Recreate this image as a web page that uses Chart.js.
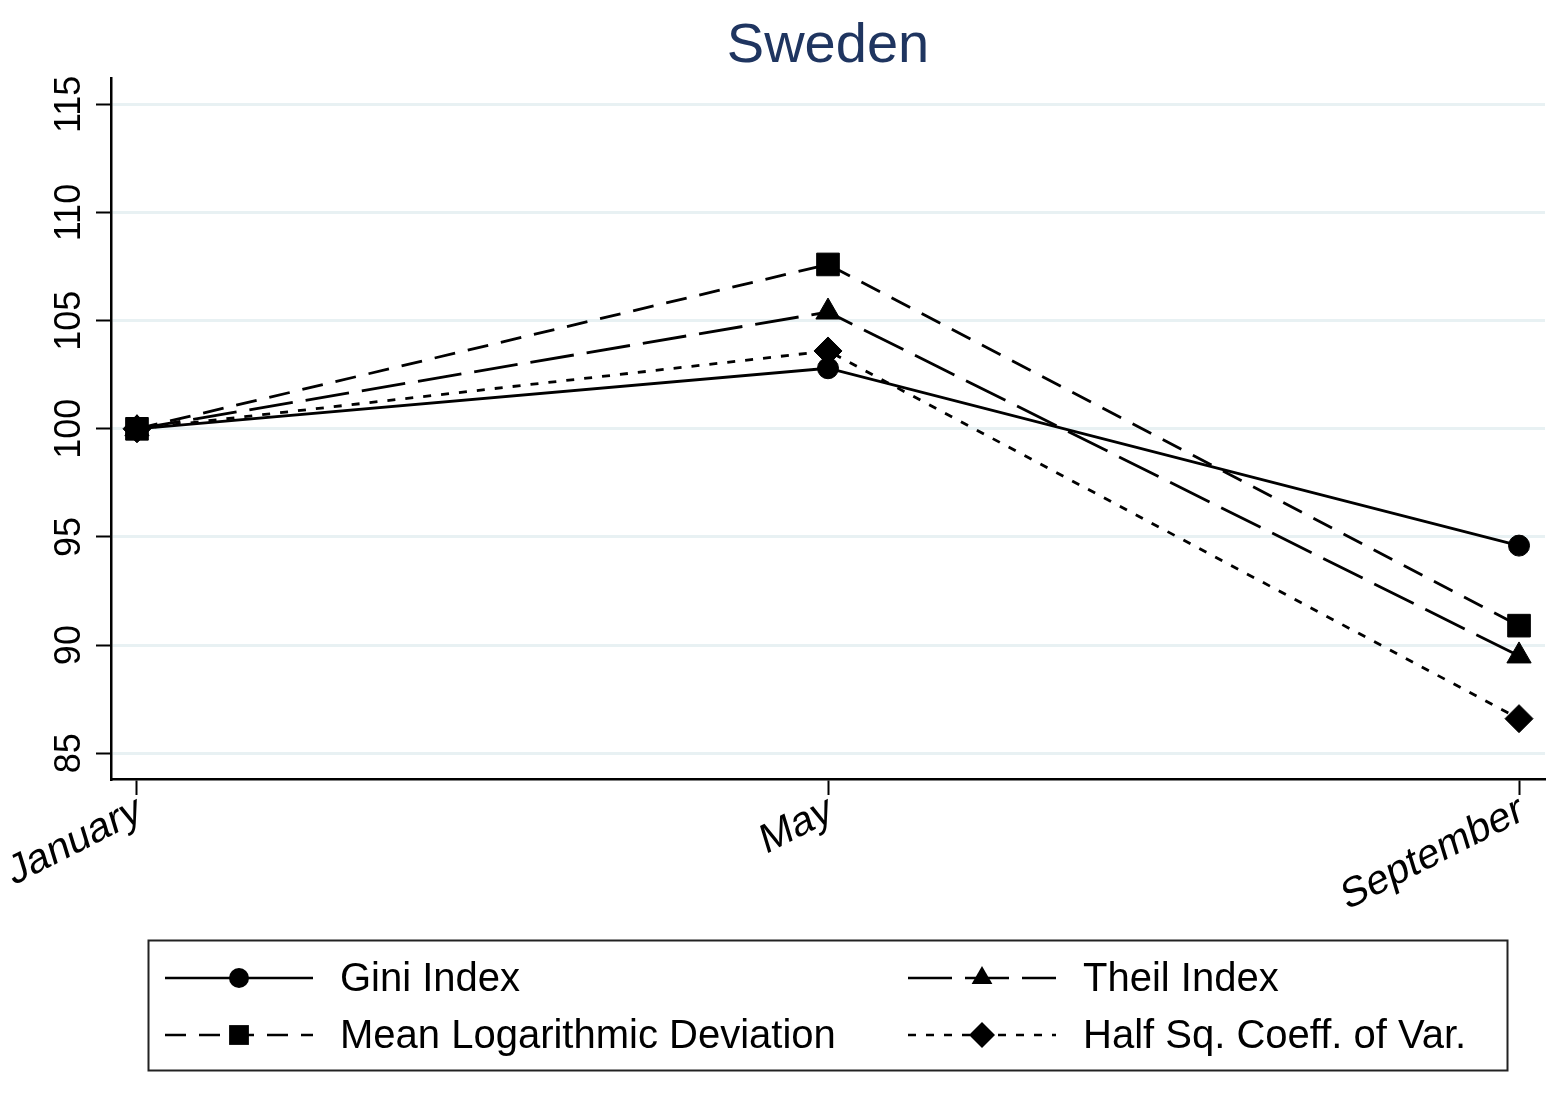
<!DOCTYPE html>
<html>
<head>
<meta charset="utf-8">
<script src="https://cdn.jsdelivr.net/npm/chart.js@4.4.0/dist/chart.umd.min.js"></script>
<style>
  html, body { margin: 0; padding: 0; background: #fff; }
  #wrap { width: 1551px; height: 1095px; }
</style>
</head>
<body>
<div id="wrap"><canvas id="myChart" width="1551" height="1095"></canvas></div>
<script>
// values
var chartTitle = 'Sweden';
var months = ['January', 'May', 'September'];
var yTicks = [85, 90, 95, 100, 105, 110, 115];
var gini = [100, 102.8, 94.6];
var mld = [100, 107.6, 90.9];
var theil = [100, 105.4, 89.5];
var halfSq = [100, 103.6, 86.6];
var seriesNames = ['Gini Index', 'Mean Logarithmic Deviation', 'Theil Index', 'Half Sq. Coeff. of Var.'];

var FONT = '"Liberation Sans", Arial, sans-serif';

function toPoints(vals) {
    return vals.map(function (v, i) { return { x: i, y: v }; });
}

function makeSet(label, vals, dash, style, r) {
    return {
        label: label,
        data: toPoints(vals),
        borderColor: '#000',
        backgroundColor: '#000',
        borderWidth: 2.8,
        borderDash: dash,
        tension: 0,
        pointStyle: style,
        pointRadius: r,
        pointBackgroundColor: '#000',
        pointBorderColor: '#000',
        pointBorderWidth: 1
    };
}

// simple marker for the legend samples
function drawMarker(ctx, style, x, y, r) {
    ctx.beginPath();
    if (style === 'circle') {
        ctx.arc(x, y, r, 0, Math.PI * 2);
    } else if (style === 'rect') {
        var s = r * Math.SQRT1_2;
        ctx.rect(x - s, y - s, 2 * s, 2 * s);
    } else if (style === 'triangle') {
        ctx.moveTo(x, y - r);
        ctx.lineTo(x + r * 0.866, y + r * 0.5);
        ctx.lineTo(x - r * 0.866, y + r * 0.5);
        ctx.closePath();
    } else if (style === 'rectRot') {
        ctx.moveTo(x, y - r);
        ctx.lineTo(x + r, y);
        ctx.lineTo(x, y + r);
        ctx.lineTo(x - r, y);
        ctx.closePath();
    }
    ctx.fill();
}

var extras = {
    id: 'extras',
    afterDraw: function (chart) {
        var ctx = chart.ctx;
        var ys = chart.scales.y;
        var xs = chart.scales.x;
        ctx.save();
        // title
        ctx.fillStyle = '#1f3560';
        ctx.font = '56px ' + FONT;
        ctx.textAlign = 'center';
        ctx.textBaseline = 'alphabetic';
        ctx.fillText(chartTitle, (chart.chartArea.left + chart.chartArea.right) / 2, 62);

        // rotated y tick labels
        ctx.fillStyle = '#000';
        ctx.font = '36px ' + FONT;
        ys.ticks.forEach(function (t) {
            var py = ys.getPixelForValue(t.value);
            ctx.save();
            ctx.translate(80, py);
            ctx.rotate(-Math.PI / 2);
            ctx.textAlign = 'center';
            ctx.textBaseline = 'alphabetic';
            ctx.fillText(String(t.value), 0, 0);
            ctx.restore();
        });

        // slanted x tick labels (baseline tilted, glyphs leaning less)
        var th = 27 * Math.PI / 180, ph = 17 * Math.PI / 180;
        ctx.font = '41px ' + FONT;
        xs.ticks.forEach(function (t) {
            var px = xs.getPixelForValue(t.value);
            ctx.save();
            ctx.setTransform(Math.cos(th), -Math.sin(th), Math.sin(ph), Math.cos(ph), px - 3, 789);
            ctx.textAlign = 'right';
            ctx.textBaseline = 'top';
            ctx.fillText(months[t.value], 0, 0);
            ctx.restore();
        });

        // legend box
        ctx.strokeStyle = '#222';
        ctx.lineWidth = 2;
        ctx.strokeRect(148.5, 940.5, 1359, 130);
        var order = [0, 2, 1, 3];
        var legendR = { circle: 10, rect: 14, triangle: 12, rectRot: 13 };
        ctx.font = '40px ' + FONT;
        ctx.textAlign = 'left';
        ctx.textBaseline = 'middle';
        order.forEach(function (di, k) {
            var ds = chart.data.datasets[di];
            var col = k % 2, row = Math.floor(k / 2);
            var x0 = col === 0 ? 165 : 908;
            var x1 = x0 + 148;
            var y = row === 0 ? 978 : 1035;
            ctx.strokeStyle = '#000';
            ctx.lineWidth = 2.5;
            ctx.setLineDash(ds.borderDash);
            ctx.beginPath();
            ctx.moveTo(x0, y);
            ctx.lineTo(x1, y);
            ctx.stroke();
            ctx.setLineDash([]);
            ctx.fillStyle = '#000';
            drawMarker(ctx, ds.pointStyle, (x0 + x1) / 2, y, legendR[ds.pointStyle]);
            ctx.fillText(ds.label, x0 + 175, y + 2);
        });
        ctx.restore();
    }
};

var myChart = new Chart(document.getElementById('myChart').getContext('2d'), {
    type: 'line',
    data: {
        datasets: [
            makeSet(seriesNames[0], gini, [], 'circle', 10.5),
            makeSet(seriesNames[1], mld, [21, 13], 'rect', 16),
            makeSet(seriesNames[2], theil, [44, 13], 'triangle', 14),
            makeSet(seriesNames[3], halfSq, [8, 10], 'rectRot', 14)
        ]
    },
    options: {
        responsive: false,
        animation: false,
        devicePixelRatio: 1,
        layout: { autoPadding: false, padding: { top: 78, right: 6, left: 0, bottom: 0 } },
        plugins: {
            legend: { display: false },
            title: { display: false },
            tooltip: { enabled: false }
        },
        scales: {
            x: {
                type: 'linear',
                min: -0.0376,
                max: 2.0376,
                afterBuildTicks: function (s) { s.ticks = months.map(function (m, i) { return { value: i }; }); },
                afterFit: function (s) { s.height = 316; },
                ticks: { display: false },
                grid: { drawOnChartArea: false, drawTicks: true, tickLength: 16, tickColor: '#000', tickWidth: 2 },
                border: { color: '#000', width: 2.5 }
            },
            y: {
                min: 83.81,
                max: 116.22,
                afterBuildTicks: function (s) { s.ticks = yTicks.map(function (v) { return { value: v }; }); },
                afterFit: function (s) { s.width = 111; },
                ticks: { display: false },
                grid: { color: '#e8f1f3', lineWidth: 3, tickLength: 15, tickColor: '#000', tickWidth: 2 },
                border: { color: '#000', width: 2.5 }
            }
        }
    },
    plugins: [extras]
});
</script>
</body>
</html>
